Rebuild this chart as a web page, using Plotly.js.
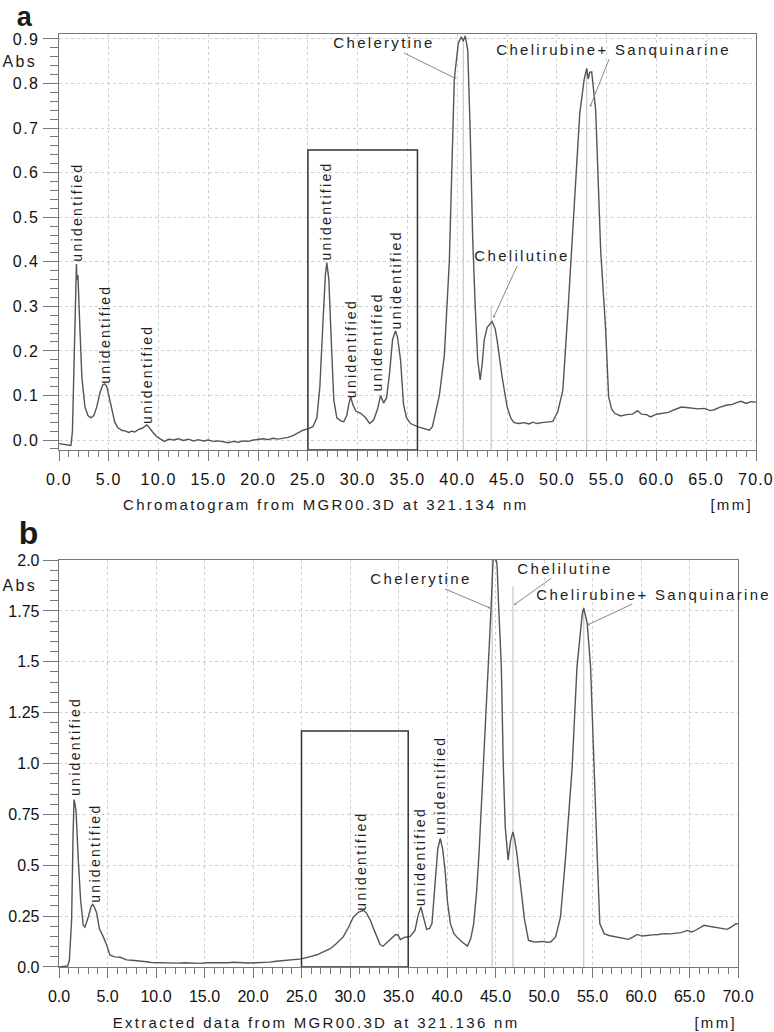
<!DOCTYPE html>
<html>
<head>
<meta charset="utf-8">
<script src="https://cdn.plot.ly/plotly-3.0.1.min.js"></script>
<style>
  html, body { margin: 0; padding: 0; background: #fff; }
  .main-svg .annotation-text { letter-spacing: 2.3px; }
  .main-svg .xtick text { letter-spacing: 1.2px; }
  .main-svg .ytick text { letter-spacing: 1.5px; }
</style>
</head>
<body>
<div id="chart" style="width:774px;height:1032px;"></div>
<script>
// ---------------- Panel a : Chromatogram (321.134 nm) ----------------
const xA = [0,0.5,1.0,1.2,1.35,1.5,1.65,1.75,1.8,1.9,2.1,2.3,2.6,2.9,3.2,3.5,3.8,4.1,4.4,4.6,4.8,5.0,5.3,5.6,5.9,6.3,6.7,7.0,7.3,7.6,8.0,8.4,8.8,9.0,9.4,9.8,10.2,10.6,11.0,11.5,12.0,12.5,13.0,13.5,14.0,14.5,15.0,15.5,16.0,16.5,17.0,17.5,18.0,18.5,19.0,19.5,20.0,20.5,21.0,21.5,22.0,22.5,23.0,23.5,24.0,24.5,25.0,25.5,25.9,26.2,26.5,26.75,26.9,27.1,27.35,27.6,27.9,28.3,28.6,28.9,29.1,29.3,29.5,29.8,30.3,30.8,31.2,31.6,32.0,32.3,32.6,32.9,33.2,33.5,33.8,34.0,34.3,34.6,34.9,35.3,36.0,36.6,37.2,37.5,37.8,38.2,38.7,39.2,39.7,40.1,40.4,40.6,40.8,41.05,41.3,41.55,41.8,42.05,42.3,42.5,42.7,43.0,43.5,43.8,44.0,44.5,45.0,45.4,45.7,46.2,46.7,47.2,47.6,48.0,48.5,49.0,49.6,50.1,50.6,51.1,51.6,52.0,52.3,52.75,53.0,53.15,53.3,53.5,53.9,54.4,54.9,55.2,55.5,55.8,56.4,57.0,57.6,58.1,58.5,59.0,59.4,60.0,60.6,61.2,61.8,62.5,63.0,63.6,64.2,64.8,65.4,65.8,66.4,67.0,67.6,68.2,68.5,69.0,69.5,70.0];
const yA = [-0.008,-0.010,-0.012,-0.012,0.02,0.15,0.33,0.395,0.36,0.37,0.25,0.14,0.075,0.055,0.05,0.055,0.075,0.105,0.124,0.126,0.12,0.10,0.067,0.04,0.028,0.022,0.02,0.017,0.02,0.018,0.024,0.027,0.034,0.03,0.018,0.008,0.002,-0.003,0.002,0.0,0.003,-0.001,0.002,-0.002,0.001,-0.002,0.0,-0.003,-0.002,-0.004,-0.006,-0.003,-0.005,-0.002,-0.003,0.0,0.001,0.003,0.001,0.004,0.002,0.004,0.006,0.01,0.016,0.022,0.025,0.03,0.05,0.12,0.26,0.37,0.398,0.36,0.22,0.09,0.05,0.043,0.041,0.055,0.08,0.097,0.08,0.065,0.06,0.05,0.037,0.045,0.07,0.10,0.083,0.095,0.15,0.225,0.245,0.23,0.18,0.08,0.05,0.037,0.03,0.026,0.022,0.03,0.06,0.10,0.19,0.40,0.81,0.89,0.905,0.895,0.907,0.875,0.69,0.45,0.30,0.18,0.135,0.17,0.224,0.253,0.266,0.25,0.224,0.142,0.075,0.048,0.039,0.037,0.039,0.036,0.04,0.037,0.039,0.04,0.042,0.064,0.112,0.284,0.47,0.63,0.733,0.81,0.834,0.81,0.825,0.826,0.74,0.426,0.247,0.097,0.07,0.06,0.054,0.057,0.058,0.066,0.058,0.057,0.052,0.058,0.06,0.062,0.068,0.074,0.073,0.072,0.07,0.071,0.066,0.068,0.074,0.078,0.08,0.085,0.087,0.082,0.086,0.085];

// ---------------- Panel b : Extracted data (321.136 nm) ----------------
const xB = [0,0.5,0.9,1.07,1.3,1.45,1.55,1.65,1.75,1.99,2.23,2.5,2.67,3.02,3.3,3.47,3.65,3.89,4.16,4.57,4.85,5.26,5.78,6.3,6.98,7.5,8.36,9.0,9.5,10.08,10.8,11.5,12.2,13.0,13.8,14.5,15.2,16.0,16.8,17.5,18.0,18.8,19.5,20.3,21.0,21.7,22.4,23.1,23.8,24.4,25.0,25.8,26.6,27.3,27.97,28.6,29.3,29.9,30.35,30.9,31.2,31.4,31.7,32.1,32.5,32.8,33.1,33.4,33.7,34.0,34.4,34.7,34.95,35.2,35.6,36.2,36.7,37.0,37.3,37.6,37.9,38.2,38.45,38.8,39.05,39.3,39.55,39.8,40.05,40.35,40.7,41.0,41.5,42.1,42.45,42.75,43.05,43.3,43.8,44.05,44.3,44.55,44.75,44.95,45.1,45.17,45.3,45.6,45.8,46.0,46.3,46.55,46.8,47.0,47.2,47.6,48.0,48.4,48.9,49.3,49.8,50.3,50.67,51.2,51.7,52.2,52.7,52.9,53.4,53.95,54.1,54.45,54.8,55.14,55.5,55.75,56.2,56.7,57.2,57.8,58.3,58.7,59.2,59.6,60.1,60.65,61.2,61.8,62.4,63.0,63.6,64.1,64.8,65.2,65.5,66.0,66.5,67.0,67.5,68.0,68.5,68.9,69.4,69.8,70.0];
const yB = [0.0,0.003,0.005,0.033,0.23,0.65,0.823,0.80,0.77,0.525,0.328,0.205,0.196,0.246,0.295,0.308,0.295,0.264,0.189,0.148,0.116,0.058,0.05,0.048,0.035,0.033,0.03,0.026,0.022,0.021,0.02,0.022,0.019,0.021,0.02,0.018,0.021,0.02,0.022,0.021,0.023,0.021,0.02,0.021,0.021,0.024,0.028,0.031,0.033,0.038,0.04,0.05,0.06,0.075,0.09,0.115,0.148,0.20,0.246,0.27,0.275,0.279,0.265,0.23,0.18,0.148,0.11,0.102,0.115,0.13,0.15,0.16,0.158,0.135,0.145,0.15,0.18,0.25,0.295,0.24,0.185,0.19,0.213,0.43,0.58,0.632,0.58,0.476,0.32,0.213,0.165,0.148,0.125,0.103,0.14,0.213,0.37,0.558,1.017,1.25,1.476,1.77,2.0,2.005,1.995,1.967,1.80,1.476,0.99,0.69,0.525,0.62,0.664,0.62,0.558,0.394,0.23,0.131,0.124,0.123,0.126,0.122,0.123,0.148,0.246,0.525,0.853,0.98,1.476,1.738,1.763,1.69,1.476,0.98,0.525,0.213,0.164,0.155,0.15,0.143,0.138,0.136,0.148,0.16,0.152,0.156,0.158,0.16,0.164,0.163,0.168,0.169,0.18,0.172,0.177,0.19,0.205,0.20,0.197,0.193,0.188,0.185,0.20,0.213,0.212];

// ---------------- tick labels ----------------
const yTickValsB = [0, 0.25, 0.5, 0.75, 1.0, 1.25, 1.5, 1.75, 2.0];
const yTickTextB = ['0.0', '0.25', '0.5', '0.75', '1.0', '1.25', '1.5', '1.75', '2.0'];

// ---------------- peak markers (vertical lines) ----------------
const markA_x = [40.6, 43.4, 53.0];
const markA_top = [0.90, 0.30, 0.83];
const markB_x = [44.65, 46.8, 54.1];
const markB_top = [2.0, 1.87, 1.77];

// ---------------- boxes (x from, x to, top) ----------------
const boxA = [25.0, 36.0, 0.651];
const boxB = [25.0, 36.0, 1.16];

// ---------------- "unidentified" labels ----------------
const unidA_x = [1.81, 4.62, 8.84, 26.8, 29.3, 31.9, 33.85];
const unidA_y = [0.512, 0.238, 0.148, 0.514, 0.205, 0.22, 0.36];
const unidB_x = [1.65, 3.7, 31.2, 37.25, 39.3];
const unidB_y = [1.085, 0.56, 0.52, 0.545, 0.895];

// ---------------- named compounds ----------------
const compNames = ['Chelerytine', 'Chelilutine', 'Chelirubine+ Sanquinarine'];
const headA_x = [39.94, 43.62, 53.33];
const headA_y = [0.81, 0.274, 0.747];
const textA_x = [32.6, 46.47, 55.64];
const textA_y = [0.891, 0.413, 0.877];
const headB_x = [44.5, 46.9, 54.45];
const headB_y = [1.763, 1.779, 1.68];
const textB_x = [37.36, 52.2, 61.3];
const textB_y = [1.907, 1.96, 1.833];

const FONT = 'Liberation Sans, Arial, Helvetica, sans-serif';
const AXC = '#777';
const GRID = '#cfcfcf';
const CURVE = '#555';

const traces = [
  {x: xA, y: yA, xaxis: 'x', yaxis: 'y', mode: 'lines', line: {color: CURVE, width: 1.4}, hoverinfo: 'skip'},
  {x: xB, y: yB, xaxis: 'x2', yaxis: 'y2', mode: 'lines', line: {color: CURVE, width: 1.4}, hoverinfo: 'skip'}
];

const yRangeA = [-0.0224, 0.911];
const yRangeB = [0, 2.0];

const shapes = [];
markA_x.forEach((v, i) => shapes.push({type: 'line', xref: 'x', yref: 'y', x0: v, x1: v, y0: yRangeA[0], y1: markA_top[i], line: {color: '#bdbdbd', width: 1}, layer: 'below'}));
markB_x.forEach((v, i) => shapes.push({type: 'line', xref: 'x2', yref: 'y2', x0: v, x1: v, y0: yRangeB[0], y1: markB_top[i], line: {color: '#bdbdbd', width: 1}, layer: 'below'}));
shapes.push({type: 'rect', xref: 'x', yref: 'y', x0: boxA[0], x1: boxA[1], y0: yRangeA[0], y1: boxA[2], line: {color: '#333', width: 1.5}});
shapes.push({type: 'rect', xref: 'x2', yref: 'y2', x0: boxB[0], x1: boxB[1], y0: yRangeB[0], y1: boxB[2], line: {color: '#333', width: 1.5}});

const annotations = [];
const unidFont = {family: FONT, size: 14, color: '#1e1e1e'};
const compFont = {family: FONT, size: 15, color: '#1e1e1e'};
unidA_x.forEach((v, i) => annotations.push({xref: 'x', yref: 'y', x: v, y: unidA_y[i], text: 'unidentified', textangle: -90, showarrow: false, xanchor: 'center', yanchor: 'middle', font: unidFont}));
unidB_x.forEach((v, i) => annotations.push({xref: 'x2', yref: 'y2', x: v, y: unidB_y[i], text: 'unidentified', textangle: -90, showarrow: false, xanchor: 'center', yanchor: 'middle', font: unidFont}));
compNames.forEach((n, i) => {
  annotations.push({xref: 'x', yref: 'y', axref: 'x', ayref: 'y', x: headA_x[i], y: headA_y[i], ax: textA_x[i], ay: textA_y[i], text: n, showarrow: true, arrowhead: 2, arrowsize: 0.5, arrowwidth: 1, arrowcolor: '#888', font: compFont});
  annotations.push({xref: 'x2', yref: 'y2', axref: 'x2', ayref: 'y2', x: headB_x[i], y: headB_y[i], ax: textB_x[i], ay: textB_y[i], text: n, showarrow: true, arrowhead: 2, arrowsize: 0.5, arrowwidth: 1, arrowcolor: '#888', font: compFont});
});
const paperText = (t, x, y, size, ya) => ({xref: 'paper', yref: 'paper', x: x, y: y, text: t, showarrow: false, xanchor: 'center', yanchor: ya || 'middle', font: {family: FONT, size: size, color: '#1a1a1a'}});
annotations.push(paperText('<b>a</b>', -0.0473, 1.0362, 27, 'top'));
annotations.push(paperText('<b>b</b>', -0.0417, 0.465, 32));
annotations.push(paperText('Abs', -0.056, 0.970, 16));
annotations.push(paperText('Abs', -0.056, 0.4094, 16));
annotations.push(paperText('Chromatogram from MGR00.3D at 321.134 nm', 0.383, 0.4952, 15));
annotations.push(paperText('[mm]', 0.965, 0.4952, 15));
annotations.push(paperText('Extracted data from MGR00.3D at 321.136 nm', 0.369, -0.059, 15));
annotations.push(paperText('[mm]', 0.942, -0.059, 15));

const xCommon = {
  range: [0, 70], dtick: 5, tick0: 0, tickformat: '.1f', ticks: 'outside', ticklen: 10, tickcolor: AXC, tickwidth: 1,
  showline: true, linecolor: AXC, linewidth: 1.3, mirror: true, showgrid: true, gridcolor: GRID, griddash: 'dot', gridwidth: 1,
  zeroline: false, ticklabelstandoff: 4, tickfont: {family: FONT, size: 16, color: '#111'},
  minor: {dtick: 1, tick0: 0, ticks: 'outside', ticklen: 6, tickcolor: AXC, showgrid: false}
};
const yCommon = {
  ticks: 'outside', ticklen: 15, tickcolor: AXC, tickwidth: 1,
  showline: true, linecolor: AXC, linewidth: 1.3, mirror: true, showgrid: true, gridcolor: GRID, griddash: 'dot', gridwidth: 1,
  zeroline: false, tickfont: {family: FONT, size: 16, color: '#111'}
};

const layout = {
  width: 774, height: 1032,
  margin: {l: 59, r: 18, t: 34, b: 65},
  paper_bgcolor: '#fff', plot_bgcolor: '#fff',
  showlegend: false,
  font: {family: FONT, size: 16, color: '#1a1a1a'},
  xaxis: Object.assign({}, xCommon, {domain: [0, 1], anchor: 'y'}),
  yaxis: Object.assign({}, yCommon, {domain: [0.5541, 1], anchor: 'x', range: yRangeA, dtick: 0.1, tick0: 0, tickformat: '.1f',
    minor: {dtick: 0.02, tick0: 0, ticks: 'outside', ticklen: 8, tickcolor: AXC, showgrid: false}}),
  xaxis2: Object.assign({}, xCommon, {domain: [0, 0.9742], anchor: 'y2'}),
  yaxis2: Object.assign({}, yCommon, {domain: [0, 0.4362], anchor: 'x2', range: yRangeB, tickmode: 'array', tickvals: yTickValsB, ticktext: yTickTextB,
    minor: {tickmode: 'linear', dtick: 0.05, tick0: 0, ticks: 'outside', ticklen: 8, tickcolor: AXC, showgrid: false}}),
  shapes: shapes,
  annotations: annotations
};

Plotly.newPlot('chart', traces, layout, {displayModeBar: false, staticPlot: true});
</script>
</body>
</html>
